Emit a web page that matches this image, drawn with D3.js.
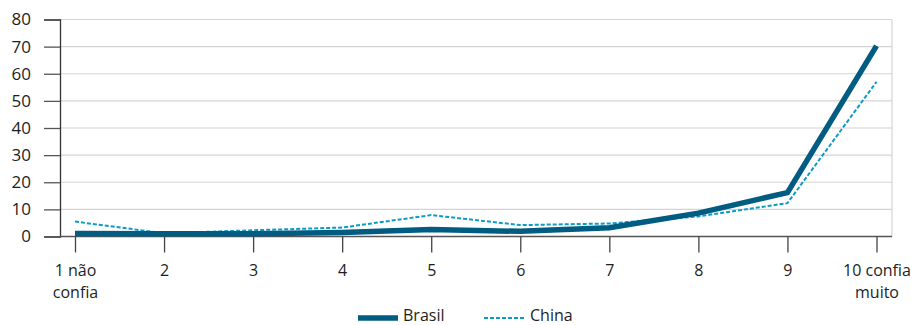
<!DOCTYPE html>
<html><head><meta charset="utf-8">
<script src="https://cdn.jsdelivr.net/npm/d3@7"></script>
<style>body{margin:0;background:#fff}svg{display:block}text{font-family:"Open Sans","Noto Sans",sans-serif;fill:#1e1e1e}</style>
</head><body><svg id="c" width="918" height="325"></svg>
<script>
const categories = ["1 não|confia","2","3","4","5","6","7","8","9","10 confia|muito"];
const brasil = [1.1, 1.0, 1.0, 1.5, 2.6, 1.9, 3.2, 8.6, 16.2, 70.3];
const china  = [5.5, 1.2, 2.3, 3.3, 7.9, 4.2, 4.8, 7.4, 12.3, 57.0];
const yTicks = [0,10,20,30,40,50,60,70,80];

(function(){
const svg = d3.select("#c");
const mLeft = 60, mRight = 892, mTop = 19.5, mBottom = 236.5;
const x = d3.scalePoint().domain(categories).range([75, 876.5]);
const y = d3.scaleLinear().domain([0,80]).range([mBottom, mTop]);

// gridlines
svg.append("g").selectAll("line").data(yTicks.filter(d=>d>0)).join("line")
  .attr("x1", mLeft).attr("x2", mRight).attr("y1", d=>y(d)).attr("y2", d=>y(d))
  .attr("stroke", "#d4d4d4").attr("stroke-width", 1.2);
svg.append("line").attr("x1", mRight).attr("x2", mRight).attr("y1", mTop).attr("y2", mBottom)
  .attr("stroke", "#d4d4d4").attr("stroke-width", 1.2);

// y axis
const ya = svg.append("g").attr("transform", `translate(${mLeft},0)`)
  .call(d3.axisLeft(y).tickValues(yTicks).tickSize(16).tickPadding(13));
ya.select(".domain").attr("stroke", "#333").attr("stroke-width", 1.3);
ya.selectAll(".tick line").attr("stroke", "#555").attr("stroke-width", 1.3);
ya.selectAll(".tick text").attr("font-size", 17).style("fill","#1e1e1e")
  .attr("font-family", '"Open Sans",sans-serif');

// x axis
const xa = svg.append("g").attr("transform", `translate(0,${mBottom})`)
  .call(d3.axisBottom(x).tickSize(16).tickSizeOuter(0).tickFormat(""));
xa.select(".domain").attr("d", `M${mLeft},0H${mRight}`).attr("stroke", "#555").attr("stroke-width", 1.3);
xa.selectAll(".tick line").attr("stroke", "#444").attr("stroke-width", 1.3);
xa.selectAll(".tick").each(function(d){
  const parts = d.split("|");
  const t = d3.select(this).append("text").attr("font-size", 16).attr("text-anchor","middle")
    .style("fill","#1e1e1e").attr("y", 39);
  parts.forEach((p,i)=> t.append("tspan").attr("x",0).attr("dy", i===0?0:22).text(p));
});

// lines
const line = d3.line().x((d,i)=>x(categories[i])).y(d=>y(d));
svg.append("path").datum(china).attr("d", line).attr("fill","none")
  .attr("stroke", "#0a9bc9").attr("stroke-width", 2).attr("stroke-dasharray","4,2");
svg.append("path").datum(brasil).attr("d", line).attr("fill","none")
  .attr("stroke", "#005c80").attr("stroke-width", 5.5).attr("stroke-linejoin","miter");

// legend
const lg = svg.append("g");
lg.append("line").attr("x1",358).attr("x2",398).attr("y1",318).attr("y2",318)
  .attr("stroke","#005c80").attr("stroke-width",5.5);
lg.append("text").attr("x",403).attr("y",321).attr("font-size",16).text("Brasil");
lg.append("line").attr("x1",484).attr("x2",525).attr("y1",318).attr("y2",318)
  .attr("stroke","#0a9bc9").attr("stroke-width",2).attr("stroke-dasharray","4,2");
lg.append("text").attr("x",530).attr("y",321).attr("font-size",16).text("China");
})();
</script></body></html>
